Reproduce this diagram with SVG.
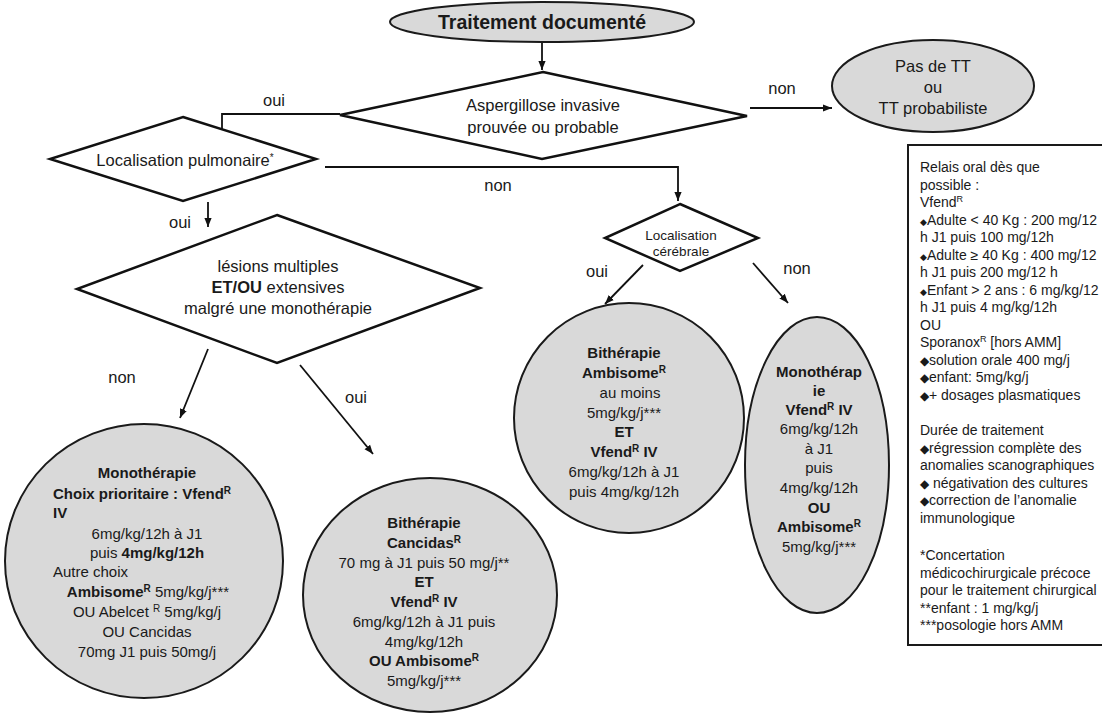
<svg xmlns="http://www.w3.org/2000/svg" width="1102" height="713" viewBox="0 0 1102 713">
<defs>
<style>
.t{font-family:"Liberation Sans",Arial,sans-serif;font-size:16.5px;fill:#1a1a1a}
.c{text-anchor:middle}
.b{font-weight:bold}
.s15{font-size:15px}
.s14{font-size:14px}
.gray{fill:#d9d9d9;stroke:#1a1a1a;stroke-width:2}
.dia{fill:#ffffff;stroke:#111;stroke-width:2.5;stroke-linejoin:miter}
.conn{stroke:#111;stroke-width:1.8;fill:none}
.arr{marker-end:url(#ah)}
.box{fill:#ffffff;stroke:#1a1a1a;stroke-width:2}
</style>
<marker id="ah" viewBox="0 0 10 10" refX="10" refY="5" markerWidth="9" markerHeight="9" orient="auto" markerUnits="userSpaceOnUse">
<path d="M0,1 L10,5 L0,9 z" fill="#111"/>
</marker>
</defs>
<rect width="1102" height="713" fill="#ffffff"/>

<g id="connectors">
<line class="conn arr" x1="542" y1="43" x2="542" y2="70"/>
<line class="conn arr" x1="750" y1="108" x2="832" y2="108"/>
<polyline class="conn arr" points="340,114 222,114 222,148"/>
<polyline class="conn arr" points="325,167 678,167 678,201"/>
<line class="conn arr" x1="208" y1="202" x2="208" y2="227"/>
<line class="conn arr" x1="643" y1="265" x2="605" y2="304"/>
<line class="conn arr" x1="753" y1="263" x2="788" y2="303"/>
<line class="conn arr" x1="208" y1="349" x2="180" y2="418"/>
<line class="conn arr" x1="300" y1="365" x2="373" y2="454"/>
<text class="t c" x="782" y="94">non</text>
<text class="t c" x="274" y="106">oui</text>
<text class="t c" x="498" y="191">non</text>
<text class="t c" x="180" y="228">oui</text>
<text class="t c" x="597" y="277">oui</text>
<text class="t c" x="797" y="274">non</text>
<text class="t c" x="122" y="383">non</text>
<text class="t c" x="356" y="403">oui</text>
</g>

<g id="n-traitement">
<ellipse class="gray" cx="542" cy="22" rx="152" ry="20"/>
<text class="t c b" x="542" y="29" style="font-size:19.5px">Traitement documenté</text>
</g>

<g id="n-aspergillose">
<polygon class="dia" points="543,72 747,116 542,159 340,115"/>
<text class="t c" x="543" y="111">Aspergillose invasive</text>
<text class="t c" x="543" y="133">prouvée ou probable</text>
</g>

<g id="n-pasdett">
<ellipse class="gray" cx="933" cy="86" rx="101" ry="46"/>
<text class="t c" x="933" y="72">Pas de TT</text>
<text class="t c" x="933" y="93">ou</text>
<text class="t c" x="933" y="114">TT probabiliste</text>
</g>

<g id="n-pulmonaire">
<polygon class="dia" points="183,117 316,159 183,201 50,159"/>
<text class="t c" x="185" y="166">Localisation  pulmonaire<tspan font-size="10" baseline-shift="super">*</tspan></text>
</g>

<g id="n-cerebrale">
<polygon class="dia" points="680,204 758,238 680,271 605,238"/>
<text class="t c" x="681" y="240" style="font-size:13.5px">Localisation</text>
<text class="t c" x="681" y="256" style="font-size:13.5px">cérébrale</text>
</g>

<g id="n-lesions">
<polygon class="dia" points="277,215 480,288 277,363 77,289"/>
<text class="t c" x="278" y="272">lésions multiples</text>
<text class="t c" x="278" y="293"><tspan class="b">ET/OU</tspan> extensives</text>
<text class="t c" x="278" y="314">malgré une monothérapie</text>
</g>

<g id="n-mono-left">
<ellipse class="gray" cx="144" cy="561" rx="139" ry="137"/>
<text class="t c b s15" x="147" y="478">Monothérapie</text>
<text class="t b s15" x="53" y="499">Choix prioritaire : Vfend<tspan font-size="10" baseline-shift="super">R</tspan></text>
<text class="t b s15" x="53" y="518">IV</text>
<text class="t c s15" x="147" y="539">6mg/kg/12h à J1</text>
<text class="t c s15" x="147" y="558">puis <tspan class="b">4mg/kg/12h</tspan></text>
<text class="t s15" x="53" y="577">Autre choix</text>
<text class="t c s15" x="148" y="597"><tspan class="b">Ambisome<tspan font-size="10" baseline-shift="super">R</tspan></tspan> 5mg/kg/j***</text>
<text class="t c s15" x="147" y="617">OU Abelcet <tspan font-size="10" baseline-shift="super">R</tspan> 5mg/kg/j</text>
<text class="t c s15" x="147" y="637">OU Cancidas</text>
<text class="t c s15" x="147" y="657">70mg J1 puis 50mg/j</text>
</g>

<g id="n-bi-cancidas">
<ellipse class="gray" cx="430" cy="595" rx="127" ry="117"/>
<text class="t c b s15" x="424" y="528">Bithérapie</text>
<text class="t c b s15" x="424" y="548">Cancidas<tspan font-size="10" baseline-shift="super">R</tspan></text>
<text class="t c s15" x="424" y="568">70 mg à J1 puis 50 mg/j**</text>
<text class="t c b s15" x="424" y="587">ET</text>
<text class="t c b s15" x="424" y="607">Vfend<tspan font-size="10" baseline-shift="super">R</tspan> IV</text>
<text class="t c s15" x="424" y="627">6mg/kg/12h à J1 puis</text>
<text class="t c s15" x="424" y="647">4mg/kg/12h</text>
<text class="t c b s15" x="424" y="666">OU Ambisome<tspan font-size="10" baseline-shift="super">R</tspan></text>
<text class="t c s15" x="424" y="686">5mg/kg/j***</text>
</g>

<g id="n-bi-ambisome">
<ellipse class="gray" cx="629" cy="418" rx="115" ry="115"/>
<text class="t c b s15" x="624" y="358">Bithérapie</text>
<text class="t c b s15" x="624" y="378">Ambisome<tspan font-size="10" baseline-shift="super">R</tspan></text>
<text class="t c s15" x="630" y="398">au moins</text>
<text class="t c s15" x="624" y="418">5mg/kg/j***</text>
<text class="t c b s15" x="624" y="437">ET</text>
<text class="t c b s15" x="624" y="457">Vfend<tspan font-size="10" baseline-shift="super">R</tspan> IV</text>
<text class="t c s15" x="624" y="477">6mg/kg/12h à J1</text>
<text class="t c s15" x="624" y="497">puis 4mg/kg/12h</text>
</g>

<g id="n-mono-right">
<ellipse class="gray" cx="817" cy="465" rx="72" ry="148"/>
<text class="t c b s15" x="819" y="377">Monothérap</text>
<text class="t c b s15" x="819" y="396">ie</text>
<text class="t c b s15" x="819" y="415">Vfend<tspan font-size="10" baseline-shift="super">R</tspan> IV</text>
<text class="t c s15" x="819" y="434">6mg/kg/12h</text>
<text class="t c s15" x="819" y="454">à J1</text>
<text class="t c s15" x="819" y="473">puis</text>
<text class="t c s15" x="819" y="493">4mg/kg/12h</text>
<text class="t c b s15" x="819" y="513">OU</text>
<text class="t c b s15" x="819" y="532">Ambisome<tspan font-size="10" baseline-shift="super">R</tspan></text>
<text class="t c s15" x="819" y="552">5mg/kg/j***</text>
</g>

<g id="n-notes">
<rect class="box" x="908" y="145" width="200" height="500"/>
<text class="t s14" x="920" y="172">Relais oral dès que</text>
<text class="t s14" x="920" y="189.5">possible :</text>
<text class="t s14" x="920" y="207">Vfend<tspan font-size="9" baseline-shift="super">R</tspan></text>
<text class="t s14" x="920" y="224.5"><tspan font-size="9">◆</tspan>Adulte &lt; 40 Kg : 200 mg/12</text>
<text class="t s14" x="920" y="242">h J1 puis 100 mg/12h</text>
<text class="t s14" x="920" y="259.5"><tspan font-size="9">◆</tspan>Adulte ≥ 40 Kg : 400 mg/12</text>
<text class="t s14" x="920" y="277">h J1 puis 200 mg/12 h</text>
<text class="t s14" x="920" y="294.5"><tspan font-size="9">◆</tspan>Enfant &gt; 2 ans : 6 mg/kg/12</text>
<text class="t s14" x="920" y="312">h J1 puis 4 mg/kg/12h</text>
<text class="t s14" x="920" y="329.5">OU</text>
<text class="t s14" x="920" y="347">Sporanox<tspan font-size="9" baseline-shift="super">R</tspan> [hors AMM]</text>
<text class="t s14" x="920" y="364.5"><tspan font-size="12">◆</tspan>solution orale 400 mg/j</text>
<text class="t s14" x="920" y="382"><tspan font-size="12">◆</tspan>enfant: 5mg/kg/j</text>
<text class="t s14" x="920" y="399.5"><tspan font-size="12">◆</tspan>+ dosages plasmatiques</text>
<text class="t s14" x="920" y="435">Durée de traitement</text>
<text class="t s14" x="920" y="452.5"><tspan font-size="12">◆</tspan>régression complète des</text>
<text class="t s14" x="920" y="470">anomalies scanographiques</text>
<text class="t s14" x="920" y="487.5"><tspan font-size="12">◆</tspan> négativation des cultures</text>
<text class="t s14" x="920" y="505"><tspan font-size="12">◆</tspan>correction de l’anomalie</text>
<text class="t s14" x="920" y="522.5">immunologique</text>
<text class="t s14" x="920" y="560">*Concertation</text>
<text class="t s14" x="920" y="577.5">médicochirurgicale précoce</text>
<text class="t s14" x="920" y="595">pour le traitement chirurgical</text>
<text class="t s14" x="920" y="612.5">**enfant : 1 mg/kg/j</text>
<text class="t s14" x="920" y="630">***posologie hors AMM</text>
</g>
</svg>
